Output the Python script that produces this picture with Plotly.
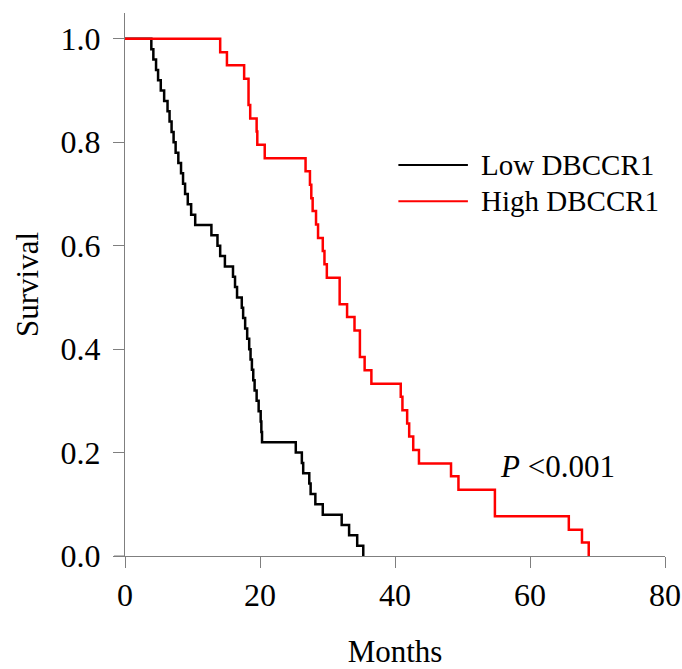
import plotly.graph_objects as go

# Kaplan-Meier step data (months, survival)
low_t = [0, 3.9, 4.2, 4.6, 4.9, 5.3, 5.8, 6.3, 6.6, 6.9, 7.2, 7.5, 7.9, 8.3, 8.6, 8.9, 9.3, 9.8, 10.4,
         12.8, 13.7, 14.1, 14.8, 16.0, 16.3, 16.6, 17.3, 17.5, 17.8, 18.1, 18.4, 18.6, 18.8, 19.0, 19.2,
         19.5, 19.8, 20.1, 20.2, 20.3, 25.3, 26.2, 26.4, 27.3, 27.5, 28.2, 29.3, 32.1, 33.2, 34.4, 35.3]
low_s = [1.0, 0.98, 0.96, 0.94, 0.92, 0.90, 0.88, 0.86, 0.84, 0.82, 0.80, 0.78, 0.76, 0.74, 0.72, 0.70, 0.68, 0.66, 0.64,
         0.62, 0.60, 0.58, 0.56, 0.54, 0.52, 0.50, 0.48, 0.46, 0.44, 0.42, 0.40, 0.38, 0.36, 0.34, 0.32,
         0.30, 0.28, 0.26, 0.24, 0.22, 0.20, 0.18, 0.16, 0.14, 0.12, 0.10, 0.08, 0.06, 0.04, 0.02, 0.0]

high_t = [0, 14.1, 15.1, 17.65, 18.3, 18.55, 19.5, 19.6, 20.7, 26.75, 27.4, 27.6, 27.8, 28.3, 28.6, 29.3,
          29.55, 29.9, 31.8, 32.9, 34.0, 34.8, 35.5, 36.5, 40.85, 41.1, 41.8, 42.1, 42.7, 43.55, 48.3,
          49.4, 54.8, 65.75, 67.7, 68.7]
high_s = [1.0, 0.974, 0.949, 0.923, 0.872, 0.846, 0.821, 0.795, 0.769, 0.744, 0.718, 0.692, 0.667, 0.641,
          0.615, 0.590, 0.564, 0.538, 0.487, 0.462, 0.436, 0.385, 0.359, 0.333, 0.308, 0.282, 0.256,
          0.231, 0.205, 0.179, 0.154, 0.128, 0.077, 0.051, 0.026, 0.0]

series_names = ["Low DBCCR1", "High DBCCR1"]
series_colors = ["#000000", "#FF0000"]
x_ticks = [0, 20, 40, 60, 80]
y_ticks = [0.0, 0.2, 0.4, 0.6, 0.8, 1.0]

FONT = "Liberation Serif, Times New Roman, serif"
AX = "#7f7f7f"
PLOT_W = 682 - 125 - 17

fig = go.Figure()
for t, s, name, col in [(low_t, low_s, series_names[0], series_colors[0]),
                        (high_t, high_s, series_names[1], series_colors[1])]:
    fig.add_trace(go.Scatter(x=t, y=s, mode="lines", name=name, line=dict(color=col, width=2.5, shape="hv"),
                             showlegend=False))

fig.update_layout(
    width=682, height=669,
    margin=dict(l=125, r=17, t=13, b=113),
    paper_bgcolor="white", plot_bgcolor="white",
    font=dict(family=FONT, size=32, color="black"),
)
fig.update_xaxes(range=[0, 80], tickvals=x_ticks, showline=True, linecolor=AX, linewidth=1, automargin=False,
                 ticklabeloverflow="allow",
                 ticks="outside", ticklen=11, tickcolor=AX, tickwidth=1, showgrid=False, zeroline=False,
                 tickfont=dict(size=32),
                 title=dict(text="Months", standoff=30, font=dict(size=31)))
fig.update_yaxes(range=[0, 1.05], tickvals=y_ticks, tickformat=".1f", showline=True, linecolor=AX, linewidth=1,
                 automargin=False, ticklabelstandoff=6,
                 ticks="outside", ticklen=11, tickcolor=AX, tickwidth=1, showgrid=False, zeroline=False,
                 tickfont=dict(size=32),
                 title=dict(text="Survival", standoff=12, font=dict(size=31)))

# small extension of x-axis line to the left of the y axis
fig.add_shape(type="line", xref="paper", yref="paper", x0=-11/PLOT_W, x1=0, y0=0, y1=0,
              line=dict(color=AX, width=1))

# manual legend
leg_y = [0.756, 0.686]
for i in range(2):
    fig.add_shape(type="line", xref="x", yref="y", x0=40.5, x1=50.8, y0=leg_y[i], y1=leg_y[i],
                  line=dict(color=series_colors[i], width=2))
    fig.add_annotation(x=52.4, y=leg_y[i], xref="x", yref="y", text=series_names[i], showarrow=False,
                       xanchor="left", yanchor="middle", font=dict(size=29))

fig.add_annotation(x=55.3, y=0.174, xref="x", yref="y", text="<i>P</i> <0.001", showarrow=False,
                   xanchor="left", yanchor="middle", font=dict(size=31))

fig.write_html("out.html", config={"displayModeBar": False},
               post_script="document.body.style.margin='0';document.body.style.overflow='hidden';")
